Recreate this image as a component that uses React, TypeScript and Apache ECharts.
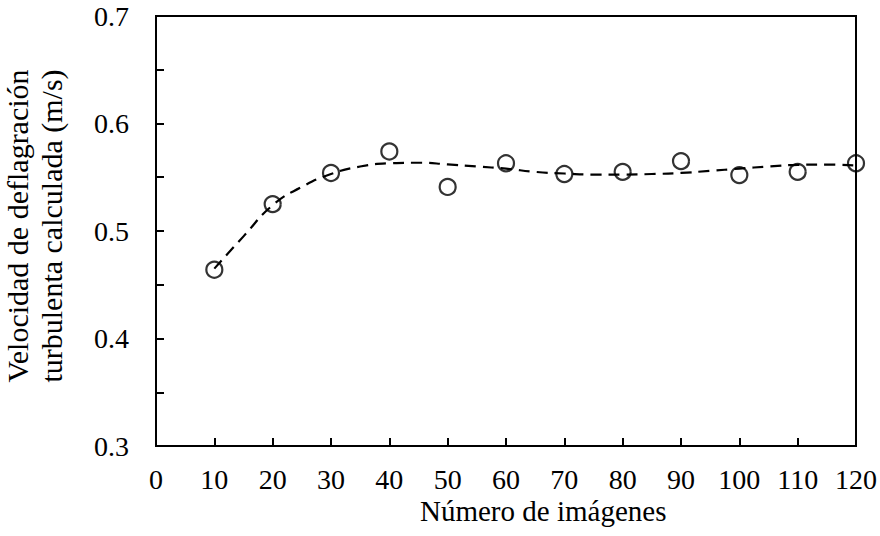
import React, { useEffect, useRef } from "react";
import * as echarts from "echarts";

const xCategories = [10, 20, 30, 40, 50, 60, 70, 80, 90, 100, 110, 120];
const measured = [0.464, 0.525, 0.554, 0.574, 0.541, 0.563, 0.553, 0.555, 0.565, 0.552, 0.555, 0.563];
const trendX = [10, 15, 20, 25, 30, 35, 40, 45, 50, 55, 60, 65, 70, 75, 80, 85, 90, 95, 100, 105, 110, 115, 120];
const trendY = [0.465, 0.495, 0.524, 0.541, 0.553, 0.56, 0.563, 0.5635, 0.562, 0.56, 0.558, 0.555, 0.5535, 0.5525, 0.5525, 0.553, 0.554, 0.556, 0.558, 0.56, 0.5615, 0.5618, 0.561];
const yLabels = ["0.3", "0.4", "0.5", "0.6", "0.7"];

const FONT = "Liberation Serif";

export default function App() {
  const ref = useRef<HTMLDivElement>(null);
  useEffect(() => {
    if (!ref.current) return;
    const chart = echarts.init(ref.current, undefined, { renderer: "svg" });
    const axisStyle = { lineStyle: { color: "#000", width: 2 } };
    chart.setOption({
      animation: false,
      backgroundColor: "#fff",
      grid: {
        left: 156,
        right: 24,
        top: 16,
        bottom: 90,
        show: true,
        borderColor: "#000",
        borderWidth: 2,
        containLabel: false,
        outerBoundsMode: "none",
      },
      xAxis: {
        type: "value",
        min: 0,
        max: 120,
        interval: 10,
        axisLine: { show: true, ...axisStyle },
        axisTick: { show: true, inside: true, length: 8, lineStyle: { color: "#000", width: 2 } },
        axisLabel: { color: "#000", fontFamily: FONT, fontSize: 28, margin: 19 },
        splitLine: { show: false },
      },
      yAxis: {
        type: "value",
        min: 0.3,
        max: 0.7,
        interval: 0.05,
        name: "Velocidad de deflagración\nturbulenta calculada (m/s)",
        nameLocation: "middle",
        nameRotate: 90,
        nameGap: 88,
        nameTextStyle: {
          color: "#000",
          fontFamily: FONT,
          fontSize: 30,
          lineHeight: 34,
          padding: [0, 0, 0, 10],
        },
        axisLine: { show: true, ...axisStyle },
        axisTick: { show: true, inside: true, length: 8, lineStyle: { color: "#000", width: 2 } },
        axisLabel: {
          color: "#000",
          fontFamily: FONT,
          fontSize: 28,
          margin: 27,
          formatter: (v: number) => {
            const s = v.toFixed(1);
            return Math.abs(v * 10 - Math.round(v * 10)) < 1e-6 && yLabels.includes(s) ? s : "";
          },
        },
        splitLine: { show: false },
      },
      graphic: [
        {
          type: "text",
          x: 420,
          y: 511,
          style: {
            text: "Número de imágenes",
            fontFamily: FONT,
            fontSize: 29,
            fill: "#000",
            textAlign: "left",
            textVerticalAlign: "middle",
          },
        },
      ],
      series: [
        {
          type: "line",
          data: trendX.map((x, i) => [x, trendY[i]]),
          smooth: true,
          showSymbol: false,
          lineStyle: { color: "#000", width: 2.2, type: [11, 7] },
          z: 1,
        },
        {
          type: "scatter",
          data: xCategories.map((x, i) => [x, measured[i]]),
          symbol: "circle",
          symbolSize: 16,
          itemStyle: { color: "transparent", borderColor: "#000", borderWidth: 2.2 },
          z: 2,
        },
      ],
    });
    return () => chart.dispose();
  }, []);
  return (
    <div
      ref={ref}
      style={{ position: "absolute", left: 0, top: 0, width: 880, height: 536, background: "#fff" }}
    />
  );
}
